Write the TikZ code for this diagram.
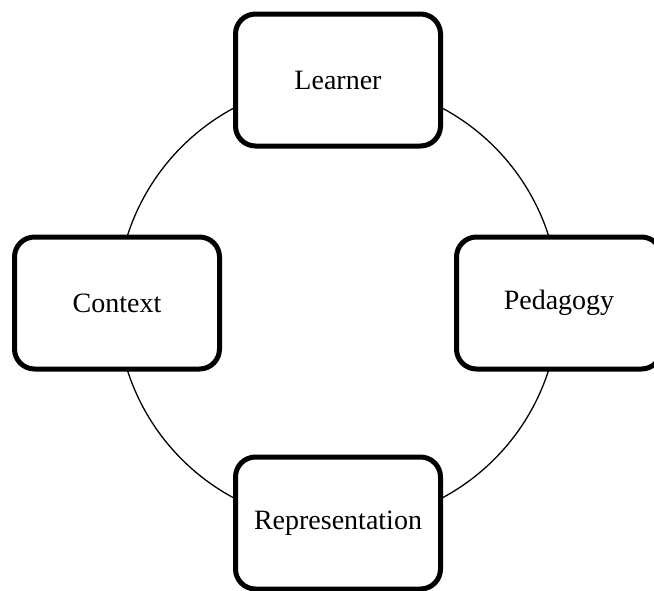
\documentclass[tikz,border=0pt]{standalone}
\usepackage{fontspec}
\setmainfont{Liberation Serif}
\begin{document}
\begin{tikzpicture}[x=1pt,y=-1pt,
  stagebox/.style={draw=black, line width=5pt, fill=white, rounded corners=20pt,
    minimum width=205pt, minimum height=132pt, inner sep=0pt,
    font=\fontsize{28}{32}\selectfont},
  cycle/.style={draw=black, line width=1.3pt}]
  \clip (0,0) rectangle (654,590);
  \fill[white] (0,0) rectangle (654,590);
  \coordinate (hub) at (338,303);
  \draw[cycle] (hub) circle[radius=221pt];
  \node[stagebox] (learner) at (338,80) {Learner};
  \node[stagebox] (context) at (117,303) {Context};
  \node[stagebox] (pedagogy) at (559,303) {Pedagogy};
  \node[stagebox] (representation) at (338,523) {Representation};
\end{tikzpicture}
\end{document}
